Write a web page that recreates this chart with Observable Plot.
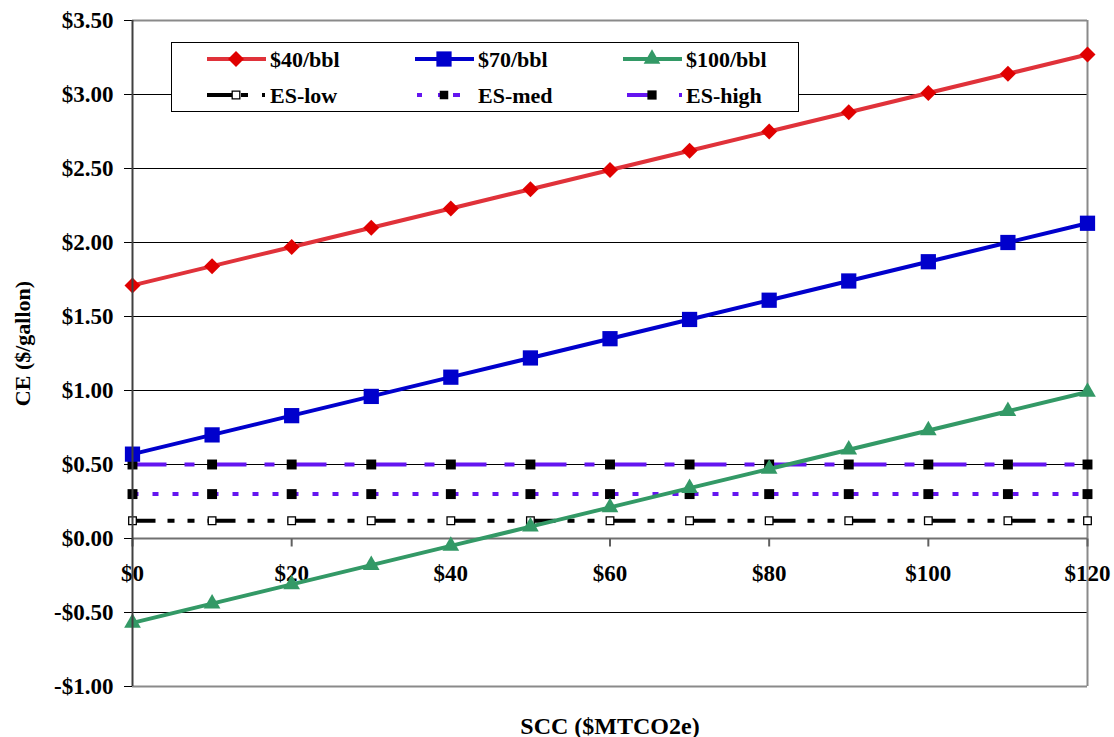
<!DOCTYPE html>
<html>
<head>
<meta charset="utf-8">
<script src="https://cdn.jsdelivr.net/npm/d3@7"></script>
<script src="https://cdn.jsdelivr.net/npm/@observablehq/plot@0.6"></script>
<style>
  html, body { margin: 0; padding: 0; background: white; }
  #chart { position: relative; width: 1114px; height: 737px; }
</style>
</head>
<body>
<div id="chart"></div>
<script>
// ---- data ----
const scc = [0, 10, 20, 30, 40, 50, 60, 70, 80, 90, 100, 110, 120];
const ce40 = [1.71, 1.84, 1.97, 2.10, 2.23, 2.36, 2.49, 2.62, 2.75, 2.88, 3.01, 3.14, 3.27];
const ce70 = [0.57, 0.70, 0.83, 0.96, 1.09, 1.22, 1.35, 1.48, 1.61, 1.74, 1.87, 2.00, 2.13];
const ce100 = [-0.57, -0.44, -0.31, -0.18, -0.05, 0.08, 0.21, 0.34, 0.47, 0.60, 0.73, 0.86, 0.99];
const esLow = [0.12, 0.12, 0.12, 0.12, 0.12, 0.12, 0.12, 0.12, 0.12, 0.12, 0.12, 0.12, 0.12];
const esMed = [0.30, 0.30, 0.30, 0.30, 0.30, 0.30, 0.30, 0.30, 0.30, 0.30, 0.30, 0.30, 0.30];
const esHigh = [0.50, 0.50, 0.50, 0.50, 0.50, 0.50, 0.50, 0.50, 0.50, 0.50, 0.50, 0.50, 0.50];
const xTicks = [0, 20, 40, 60, 80, 100, 120];
const yTicks = [-1, -0.5, 0, 0.5, 1, 1.5, 2, 2.5, 3, 3.5];
const seriesNames = ["$40/bbl", "$70/bbl", "$100/bbl", "ES-low", "ES-med", "ES-high"];
const xTitle = "SCC ($MTCO2e)";
const yTitle = "CE ($/gallon)";

// ---- styles ----
const FONT = "'Liberation Serif', 'Times New Roman', serif";
const styles = {
  "$40/bbl": {line: "#e0323a", symbol: "diamond2", r: 7.2, width: 4, dash: null, fill: "#e00000", mstroke: "none"},
  "$70/bbl": {line: "#0000cc", symbol: "square", r: 8.6, width: 4, dash: null, fill: "#0000cc", mstroke: "none"},
  "$100/bbl": {line: "#339966", symbol: "triangle", r: 6.2, width: 4, dash: null, fill: "#339966", mstroke: "none"},
  "ES-low": {line: "#000000", symbol: "square", r: 4.3, width: 4, dash: "28,12,7,13,7,13", offset: 5, fill: "white", mstroke: "black",
             legendDash: "25,9,7,14,3,100", legendR: 4.3},
  "ES-med": {line: "#6415f0", symbol: "square", r: 5.6, width: 4, dash: "6,14", offset: 0, fill: "black", mstroke: "none",
             legendDash: "0,2,5,16,7,8,7,100", legendR: 4.8},
  "ES-high": {line: "#6415f0", symbol: "square", r: 5.6, width: 4, dash: "34,18,10,18", offset: 0, fill: "black", mstroke: "none",
             legendDash: "0,4,28,24,3,100", legendR: 5.2}
};
const valuesBy = {
  "$40/bbl": ce40, "$70/bbl": ce70, "$100/bbl": ce100,
  "ES-low": esLow, "ES-med": esMed, "ES-high": esHigh
};
const drawOrder = ["ES-high", "ES-med", "ES-low", "$40/bbl", "$70/bbl", "$100/bbl"];

const fmt = d => (d < 0 ? "-" : "") + "$" + Math.abs(d).toFixed(2);
const tickDown = {draw(ctx) { ctx.moveTo(0, 0); ctx.lineTo(0, 8); }};

const seriesMarks = [];
for (const name of drawOrder) {
  const s = styles[name];
  const rows = scc.map((x, i) => ({x, y: valuesBy[name][i]}));
  seriesMarks.push(Plot.line(rows, {
    x: "x", y: "y", stroke: s.line, strokeWidth: s.width,
    strokeDasharray: s.dash || undefined, strokeDashoffset: s.offset || 0,
    strokeLinecap: "butt", strokeLinejoin: "round"
  }));
  seriesMarks.push(Plot.dot(rows, {
    x: "x", y: "y", symbol: s.symbol, r: s.r, fill: s.fill,
    stroke: s.mstroke, strokeWidth: s.mstroke === "none" ? 0 : 1.3
  }));
}

const chart = Plot.plot({
  width: 1114,
  height: 737,
  marginTop: 20,
  marginBottom: 51,
  marginLeft: 132,
  marginRight: 27,
  x: {domain: [0, 120], axis: null},
  y: {domain: [-1, 3.5]},
  style: {fontFamily: FONT, fontWeight: "bold", fontSize: "23px", color: "black", background: "white", overflow: "visible"},
  marks: [
    Plot.ruleY(yTicks.filter(d => d > -1 && d < 3.5 && d !== 0), {y: d => d, stroke: "black", strokeWidth: 1}),
    Plot.ruleY([-1, 3.5], {y: d => d, stroke: "#8a8a8a", strokeWidth: 2}),
    Plot.ruleX([120], {x: d => d, stroke: "#8a8a8a", strokeWidth: 2}),
    Plot.ruleY([0], {y: d => d, stroke: "#707070", strokeWidth: 2}),
    Plot.dot(xTicks, {x: d => d, y: () => 0, symbol: tickDown, fill: "none", stroke: "#606060", strokeWidth: 2}),
    Plot.text(xTicks, {x: d => d, y: () => 0, dy: 35, text: d => "$" + d, fontSize: 23, fontWeight: "bold", fill: "black"}),
    Plot.axisY({ticks: yTicks, tickFormat: fmt, tickSize: 8, tickPadding: 11, label: null, fontSize: 23, fontWeight: "bold", stroke: "black"}),
    ...seriesMarks,
    Plot.ruleX([0], {x: d => d, stroke: "#404040", strokeWidth: 2}),
    Plot.text([yTitle], {frameAnchor: "left", textAnchor: "middle", lineAnchor: "middle", dx: -110, dy: -10, rotate: -90, text: d => d, fontSize: 22, fontWeight: "bold", fill: "black"}),
    Plot.text([xTitle], {frameAnchor: "bottom", textAnchor: "middle", lineAnchor: "middle", dy: 40, text: d => d, fontSize: 24, fontWeight: "bold", fill: "black"})
  ]
});
document.getElementById("chart").appendChild(chart);

// ---- legend (drawn into the same SVG) ----
const svg = d3.select(chart);
const lg = svg.append("g").attr("class", "legend");
lg.append("rect").attr("x", 171.5).attr("y", 42.5).attr("width", 627).attr("height", 69)
  .attr("fill", "white").attr("stroke", "black").attr("stroke-width", 1);
const cols = [207, 415, 623];
const rowsY = [59, 95];
seriesNames.forEach((name, i) => {
  const s = styles[name];
  const x0 = cols[i % 3], y0 = rowsY[Math.floor(i / 3)];
  const g = lg.append("g");
  g.append("line").attr("x1", x0).attr("x2", x0 + 59).attr("y1", y0).attr("y2", y0)
    .attr("stroke", s.line).attr("stroke-width", s.width)
    .attr("stroke-dasharray", s.legendDash || null);
  const symType = {diamond2: d3.symbolDiamond2, square: d3.symbolSquare, triangle: d3.symbolTriangle}[s.symbol];
  const legendR = s.legendR || s.r;
  g.append("path").attr("d", d3.symbol(symType, Math.PI * legendR * legendR)())
    .attr("transform", `translate(${x0 + 29},${y0})`)
    .attr("fill", s.fill).attr("stroke", s.mstroke === "none" ? null : s.mstroke).attr("stroke-width", 1.3);
  g.append("text").attr("x", x0 + 63).attr("y", y0).attr("dy", "0.35em")
    .attr("text-anchor", "start")
    .attr("font-family", FONT).attr("font-weight", "bold").attr("font-size", 22).attr("fill", "black")
    .text(name);
});
</script>
</body>
</html>
